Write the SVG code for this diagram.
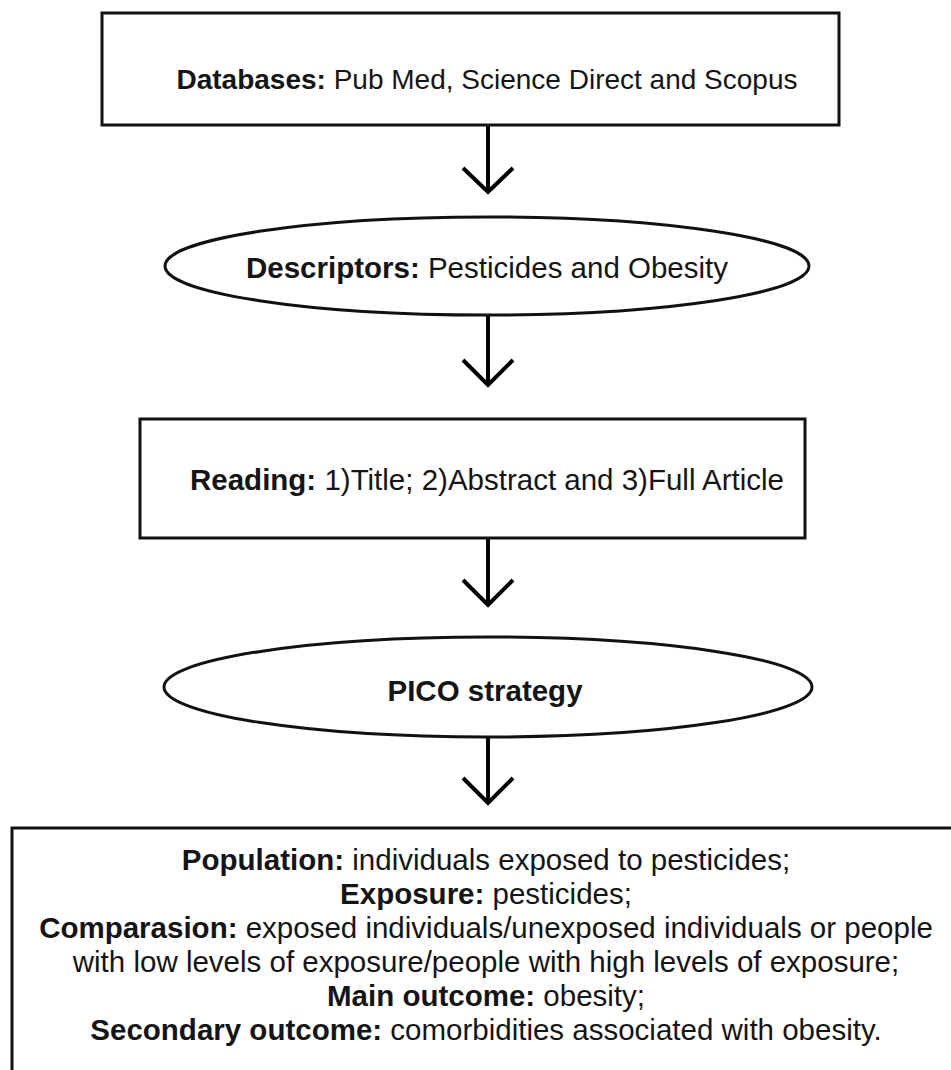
<svg xmlns="http://www.w3.org/2000/svg" width="951" height="1070" viewBox="0 0 951 1070">
<style>
.shape{fill:#fff;stroke:#111;stroke-width:3}
.t{font-family:"Liberation Sans",Arial,sans-serif;font-size:29.5px;fill:#151515;text-anchor:middle}
.b{font-weight:bold}
.conn{fill:none;stroke:#000;stroke-width:4;stroke-linejoin:miter;stroke-linecap:butt}
</style>
<rect width="951" height="1070" fill="#fff"/>
<g id="connectors">
<path class="conn" d="M488 126V191M463 168L488 192L513 168"/>
<path class="conn" d="M488 315V384M463 360L488 385L513 360"/>
<path class="conn" d="M488 538V604M463 580L488 605L513 580"/>
<path class="conn" d="M488 738V802M463 778L488 803L513 778"/>
</g>
<g id="databases">
<rect class="shape" x="102" y="13" width="737" height="112"/>
<text class="t" x="487" y="89" style="font-size:28px"><tspan class="b">Databases:</tspan> Pub Med, Science Direct and Scopus</text>
</g>
<g id="descriptors">
<ellipse class="shape" cx="487" cy="266" rx="322" ry="49"/>
<text class="t" x="487" y="278"><tspan class="b">Descriptors:</tspan> Pesticides and Obesity</text>
</g>
<g id="reading">
<rect class="shape" x="140" y="419" width="665" height="119"/>
<text class="t" x="487" y="490"><tspan class="b">Reading:</tspan> 1)Title; 2)Abstract and 3)Full Article</text>
</g>
<g id="pico">
<ellipse class="shape" cx="488" cy="687" rx="324" ry="50"/>
<text class="t b" x="485" y="701">PICO strategy</text>
</g>
<g id="pico-details">
<rect class="shape" x="12" y="828" width="980" height="260"/>
<text class="t" x="486" y="870"><tspan class="b">Population:</tspan> individuals exposed to pesticides;</text>
<text class="t" x="486" y="904"><tspan class="b">Exposure:</tspan> pesticides;</text>
<text class="t" x="486" y="938"><tspan class="b">Comparasion:</tspan> exposed individuals/unexposed individuals or people</text>
<text class="t" x="486" y="972">with low levels of exposure/people with high levels of exposure;</text>
<text class="t" x="486" y="1006"><tspan class="b">Main outcome:</tspan> obesity;</text>
<text class="t" x="486" y="1040"><tspan class="b">Secondary outcome:</tspan> comorbidities associated with obesity.</text>
</g>
</svg>
